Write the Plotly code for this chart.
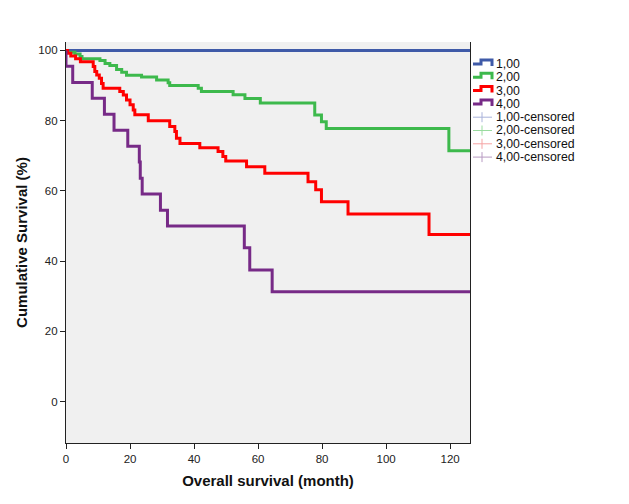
import plotly.graph_objects as go

# ---- data ----
g1_t = [0, 127]
g1_s = [100, 100]

g2_t = [0, 0.4, 2.8, 4.4, 5.0, 10.6, 12.2, 13.7, 15.8, 17.4, 18.9, 23.6, 28.3, 31.9, 32.4,
        41.3, 42.3, 52.2, 55.9, 60.7, 77.7, 79.8, 81.3, 119.6, 127]
g2_s = [100, 99.5, 99.0, 98.3, 97.6, 97.1, 96.3, 95.7, 94.6, 93.8, 92.9, 92.4, 91.6, 90.8, 90.0,
        89.2, 88.3, 87.4, 86.3, 85.0, 81.6, 79.7, 77.8, 71.4, 71.4]

g3_t = [0, 0.5, 1.5, 3.0, 4.5, 8.5, 9.0, 9.6, 10.4, 11.1, 11.6, 16.8, 17.9, 18.9, 20.0, 21.0,
        21.5, 25.7, 32.4, 34.0, 34.5, 35.6, 41.8, 47.5, 49.0, 49.9, 56.4, 62.1, 75.6, 78.0,
        79.8, 88.1, 113.4, 127]
g3_s = [100, 99.2, 98.4, 97.6, 96.8, 95.4, 94.0, 93.0, 92.1, 90.6, 89.2, 88.3, 87.3, 85.9, 84.5, 83.0,
        81.7, 80.0, 78.3, 76.9, 75.0, 73.5, 72.3, 71.2, 69.8, 68.5, 66.9, 65.0, 62.6, 60.3,
        56.9, 53.4, 47.6, 47.6]

g4_t = [0, 0, 2.1, 8.2, 12.0, 15.0, 19.3, 22.9, 23.2, 23.8, 29.5, 31.7, 55.7, 57.4, 64.4, 127]
g4_s = [100, 95.5, 90.9, 86.4, 81.8, 77.3, 72.7, 68.2, 63.6, 59.1, 54.5, 50.0, 43.8, 37.5, 31.3, 31.3]

group_labels = ["1,00", "2,00", "3,00", "4,00"]
censor_labels = ["1,00-censored", "2,00-censored", "3,00-censored", "4,00-censored"]
x_ticks = [0, 20, 40, 60, 80, 100, 120]
y_ticks = [0, 20, 40, 60, 80, 100]

# ---- styles ----
line_colors = ["#3F5AA8", "#3DB94C", "#FF0000", "#772A87"]
censor_colors = ["#A9B2DA", "#9ADB9F", "#F5A3A3", "#B79AC2"]
FONT = "Liberation Sans, Arial, sans-serif"

series = [(g1_t, g1_s), (g2_t, g2_s), (g3_t, g3_s), (g4_t, g4_s)]

fig = go.Figure()
for (t, s), name, col in zip(series, group_labels, line_colors):
    fig.add_trace(go.Scatter(x=t, y=s, mode="lines", name=name,
                             line=dict(color=col, width=3, shape="hv"),
                             showlegend=False, hoverinfo="skip"))

# page body has an 8px margin, so the figure is drawn 8px smaller / shifted
OFF = 8
FW, FH = 629 - OFF, 504 - OFF
# plot-area in screen pixels
L, R, T, B = 66, 470, 42, 443
W, H = R - L, B - T

def px(x):
    return (x - L) / W

def py(y):
    return (B - y) / H

shapes = []
annotations = []
row_y = [64 + 13.3 * i for i in range(8)]
for i, (lab, col) in enumerate(zip(group_labels, line_colors)):
    cy = row_y[i]
    path = "M{},{} L{},{} L{},{} L{},{} L{},{}".format(
        px(473), py(cy), px(481), py(cy), px(481), py(cy - 4),
        px(492), py(cy - 4), px(492), py(cy + 2))
    shapes.append(dict(type="path", path=path, xref="paper", yref="paper",
                       line=dict(color=col, width=3)))
    annotations.append(dict(x=px(494), y=py(cy), xref="paper", yref="paper",
                            text=lab, showarrow=False, xanchor="left", yanchor="middle",
                            font=dict(family=FONT, size=12.3, color="#111")))
for i, (lab, col) in enumerate(zip(censor_labels, censor_colors)):
    cy = row_y[4 + i]
    shapes.append(dict(type="line", xref="paper", yref="paper",
                       x0=px(473), x1=px(492), y0=py(cy), y1=py(cy),
                       line=dict(color=col, width=1)))
    shapes.append(dict(type="line", xref="paper", yref="paper",
                       x0=px(482), x1=px(482), y0=py(cy - 5), y1=py(cy + 5),
                       line=dict(color=col, width=1)))
    annotations.append(dict(x=px(494), y=py(cy), xref="paper", yref="paper",
                            text=lab, showarrow=False, xanchor="left", yanchor="middle",
                            font=dict(family=FONT, size=12.3, color="#111")))

fig.update_layout(
    width=FW, height=FH,
    margin=dict(l=L - OFF, r=FW - (R - OFF), t=T - OFF, b=FH - (B - OFF)),
    paper_bgcolor="white",
    plot_bgcolor="#F0F0F0",
    showlegend=False,
    shapes=shapes,
    annotations=annotations,
    font=dict(family=FONT, size=11.5, color="#222"),
)
fig.update_xaxes(
    range=[0, 126.2], tickvals=x_ticks, ticks="outside", ticklen=5, tickwidth=1,
    tickcolor="#222", showgrid=False, zeroline=False,
    showline=True, linecolor="#222", linewidth=1.3,
    tickfont=dict(family=FONT, size=11.5, color="#222"),
    title=dict(text="<b>Overall survival (month)</b>", standoff=11,
               font=dict(family=FONT, size=15, color="#111")),
)
fig.update_yaxes(
    range=[-11.8, 102.4], tickvals=y_ticks, ticks="outside", ticklen=5, tickwidth=1,
    tickcolor="#222", showgrid=False, zeroline=False,
    showline=True, mirror=True, linecolor="#222", linewidth=1.3,
    tickfont=dict(family=FONT, size=11.5, color="#222"),
    title=dict(text="<b>Cumulative Survival (%)</b>", standoff=7,
               font=dict(family=FONT, size=15, color="#111")),
)

fig.write_html("out.html")
